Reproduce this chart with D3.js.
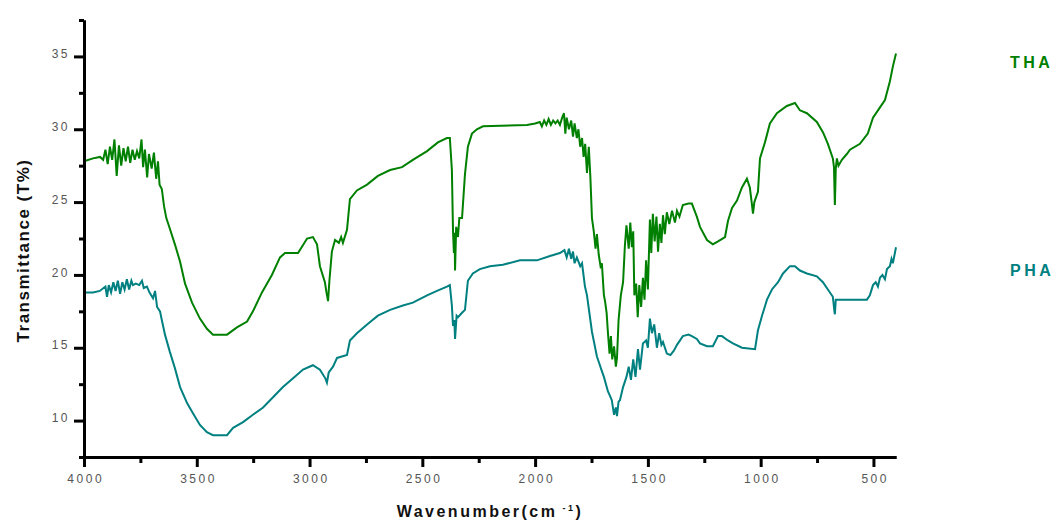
<!DOCTYPE html>
<html>
<head>
<meta charset="utf-8">
<script src="https://cdn.jsdelivr.net/npm/d3@7"></script>
<style>
    body { margin: 0; background: #fff; }
    svg { display: block; font-family: Arial, "Liberation Sans", sans-serif; }
    .axis path.domain { stroke: #000; stroke-width: 3; }
    .axis .tick line { stroke: #000; stroke-width: 3; }
    .axis .tick text { fill: #555; font-size: 12px; letter-spacing: 2.5px; }
    .minor .tick text { display: none; }
</style>
</head>
<body>
<script>
/*
** Data - FTIR spectra (wavenumber cm-1, transmittance %)
*/
var seriesNames = ["THA", "PHA"];
var seriesColors = ["#008000", "#008080"];

var thaWave = [4000,3960,3929,3915,3905,3895,3885,3875,3865,3855,3845,3835,3825,3815,3805,3795,3785,3775,3765,3755,3745,3738,3730,3720,3712,3700,3690,3680,3672,3665,3655,3645,3635,3620,3597,3574,3552,3521,3486,3455,3428,3366,3322,3277,3251,3211,3167,3131,3109,3051,3011,2985,2967,2954,2932,2925,2918,2912,2901,2887,2870,2860,2852,2834,2821,2790,2745,2697,2643,2590,2542,2479,2431,2391,2378,2369,2364,2360,2357,2355,2350,2342,2336,2324,2311,2298,2280,2258,2231,2036,2000,1979,1970,1960,1950,1940,1930,1920,1910,1900,1890,1880,1872,1866,1860,1850,1840,1832,1825,1815,1808,1800,1792,1785,1778,1770,1762,1755,1748,1740,1732,1726,1718,1710,1704,1695,1690,1683,1677,1670,1664,1658,1650,1642,1637,1630,1620,1610,1602,1595,1585,1578,1571,1565,1560,1552,1545,1538,1530,1522,1515,1508,1500,1491,1485,1478,1470,1462,1455,1447,1440,1433,1425,1416,1405,1393,1380,1371,1360,1345,1320,1305,1283,1269,1238,1212,1189,1158,1145,1127,1105,1083,1061,1048,1040,1034,1028,1012,1003,981,959,928,884,848,826,795,751,724,702,680,675,671,667,662,655,640,618,604,560,525,502,471,449,427,414,400];
var thaValue = [27.8,28.0,28.1,27.9,28.6,27.6,28.8,27.9,29.3,26.8,28.9,27.5,28.7,27.8,28.8,27.7,28.6,27.9,28.5,28.0,29.3,27.4,28.6,26.7,28.3,27.3,28.4,26.6,27.8,26.2,25.9,24.7,23.9,23.2,22.1,20.9,19.4,18.1,17.0,16.3,15.9,15.9,16.4,16.8,17.5,18.8,20.0,21.2,21.5,21.5,22.5,22.6,22.1,20.6,19.5,18.8,18.2,19.6,21.6,22.4,22.2,22.6,22.2,23.1,25.2,25.8,26.2,26.8,27.2,27.4,27.9,28.5,29.1,29.4,29.4,27.2,23.0,21.5,22.9,20.3,23.3,22.6,23.9,23.9,26.9,28.8,29.7,30.0,30.2,30.3,30.4,30.5,30.2,30.6,30.3,30.7,30.3,30.6,30.4,30.6,30.3,30.8,31.1,29.7,30.8,30.0,30.6,29.5,30.4,29.4,30.0,28.8,29.4,28.1,29.0,27.0,28.8,26.7,23.9,23.0,21.8,22.8,21.4,20.6,20.8,18.6,18.2,17.4,16.0,14.6,15.8,14.2,15.1,13.7,14.3,16.9,18.6,19.5,22.0,23.4,21.8,23.6,21.9,23.0,18.6,19.4,17.1,19.3,17.8,19.8,18.3,21.0,19.0,23.8,21.5,24.2,22.3,24.0,21.6,23.5,22.2,24.1,22.8,24.3,23.5,24.4,23.6,24.4,24.0,24.8,24.9,24.9,24.0,23.3,22.4,22.1,22.3,22.6,23.7,24.6,25.1,26.0,26.6,26.0,25.0,24.2,25.0,25.7,28.0,29.1,30.4,31.1,31.6,31.8,31.3,31.1,30.5,29.8,29.0,28.0,27.4,24.8,27.3,28.0,27.5,27.9,28.3,28.6,29.0,29.7,30.8,31.5,32.0,33.3,34.3,35.2];

var phaWave = [4000,3960,3930,3905,3898,3890,3880,3870,3860,3850,3840,3830,3820,3810,3800,3790,3783,3770,3755,3743,3735,3721,3710,3694,3685,3676,3663,3655,3641,3619,3597,3574,3543,3517,3486,3455,3428,3366,3339,3295,3251,3206,3162,3118,3073,3029,2985,2954,2930,2923,2915,2896,2878,2834,2821,2790,2745,2697,2643,2586,2542,2479,2435,2391,2378,2369,2364,2358,2355,2348,2342,2324,2311,2298,2276,2245,2200,2143,2067,1992,1934,1890,1870,1860,1850,1840,1832,1825,1815,1800,1792,1779,1770,1748,1726,1715,1704,1695,1677,1668,1660,1650,1642,1637,1630,1624,1610,1595,1585,1575,1565,1555,1544,1535,1522,1508,1500,1491,1482,1472,1460,1450,1440,1433,1416,1400,1385,1371,1345,1320,1305,1283,1269,1238,1212,1189,1172,1145,1123,1083,1025,1012,994,972,950,923,901,870,848,826,795,751,724,702,680,673,671,667,662,618,529,516,502,490,480,471,460,449,440,427,420,414,405,400];
var phaValue = [18.8,18.8,18.9,19.2,18.5,19.3,18.8,19.5,18.9,19.6,18.7,19.5,19.0,19.7,19.0,19.6,19.3,19.4,19.3,19.6,19.1,19.2,18.8,18.4,18.9,17.8,17.5,16.9,15.9,14.7,13.6,12.3,11.2,10.5,9.7,9.2,9.0,9.0,9.5,9.9,10.4,10.9,11.6,12.3,12.9,13.5,13.8,13.5,12.9,12.6,13.3,13.7,14.3,14.5,15.5,16.0,16.6,17.2,17.6,17.9,18.1,18.6,18.9,19.2,19.3,17.9,16.5,16.9,15.6,17.2,17.1,17.4,17.6,19.6,20.1,20.4,20.6,20.7,21.0,21.0,21.3,21.5,21.7,21.2,21.8,21.1,21.6,20.8,21.2,20.6,20.8,19.2,18.6,16.1,14.4,13.9,13.4,13.0,12.0,11.7,11.4,10.4,10.9,10.3,11.3,11.4,12.3,13.0,13.7,12.8,14.2,13.0,14.9,13.5,15.3,15.5,15.0,17.0,16.0,16.6,15.0,16.0,15.2,15.4,14.6,14.5,14.8,15.2,15.8,15.9,15.8,15.6,15.3,15.1,15.1,15.8,15.8,15.5,15.3,15.0,14.9,16.2,17.2,18.3,19.0,19.5,20.1,20.6,20.6,20.3,20.1,19.9,19.5,19.0,18.5,17.5,17.3,18.3,18.3,18.3,18.3,18.6,19.3,19.5,19.2,19.8,20.0,19.7,20.4,20.6,21.1,20.8,21.5,21.9];

var xMajorTicks = [4000, 3500, 3000, 2500, 2000, 1500, 1000, 500];
var xMinorTicks = [3750, 3250, 2750, 2250, 1750, 1250, 750];
var yMajorTicks = [10, 15, 20, 25, 30, 35];
var yMinorTicks = [7.5, 12.5, 17.5, 22.5, 27.5, 32.5, 37.5];

/*
** Chart
*/
var width = 1061
  , height = 521
  , margin = { top: 20, right: 165, bottom: 64, left: 84 }
  , innerW = width - margin.left - margin.right
  , innerH = height - margin.top - margin.bottom
;

var svg = d3.select("body").append("svg")
    .attr("width", width)
    .attr("height", height)
;
var g = svg.append("g")
    .attr("transform", "translate(" + margin.left + "," + margin.top + ")")
;

var x = d3.scaleLinear().domain([4000, 400]).range([0, innerW]);
var y = d3.scaleLinear().domain([7.5, 37.5]).range([innerH, 0]);

var series = [
      { name: seriesNames[0], color: seriesColors[0], wave: thaWave, value: thaValue }
    , { name: seriesNames[1], color: seriesColors[1], wave: phaWave, value: phaValue }
];

var line = d3.line()
    .x(function(d) { return x(d[0]); })
    .y(function(d) { return y(d[1]); })
;

series.forEach(function(s) {
    var pts = d3.zip(s.wave, s.value);
    g.append("path")
        .datum(pts)
        .attr("fill", "none")
        .attr("stroke", s.color)
        .attr("stroke-width", 2)
        .attr("stroke-linejoin", "miter")
        .attr("d", line)
    ;
});

// minor ticks first, then major axes on top
g.append("g")
    .attr("class", "axis minor")
    .attr("transform", "translate(0," + innerH + ")")
    .call(d3.axisBottom(x).tickValues(xMinorTicks).tickSize(6).tickSizeOuter(0))
;
g.append("g")
    .attr("class", "axis")
    .attr("transform", "translate(0," + innerH + ")")
    .call(d3.axisBottom(x).tickValues(xMajorTicks).tickSize(10).tickSizeOuter(0)
        .tickPadding(7).tickFormat(d3.format("d")))
  .selectAll(".tick text")
    .attr("dx", "0.1em")
;
g.append("g")
    .attr("class", "axis minor")
    .call(d3.axisLeft(y).tickValues(yMinorTicks).tickSize(5).tickSizeOuter(0))
;
g.append("g")
    .attr("class", "axis")
    .call(d3.axisLeft(y).tickValues(yMajorTicks).tickSize(10).tickSizeOuter(0)
        .tickPadding(4).tickFormat(d3.format("d")))
  .selectAll(".tick text")
    .attr("dy", "0.1em")
;

// axis titles
svg.append("text")
    .attr("transform", "translate(29," + (margin.top + innerH / 2 + 12) + ") rotate(-90)")
    .attr("text-anchor", "middle")
    .style("font-size", "17px")
    .style("font-weight", "bold")
    .style("letter-spacing", "1.5px")
    .attr("fill", "#111")
    .text("Transmittance (T%)")
;
var xt = svg.append("text")
    .attr("x", 490)
    .attr("y", 517)
    .attr("text-anchor", "middle")
    .style("font-size", "16px")
    .style("font-weight", "bold")
    .style("letter-spacing", "2.5px")
    .attr("fill", "#111")
;
xt.append("tspan").text("Wavenumber(cm");
xt.append("tspan").attr("dy", "-6").style("font-size", "9px").text(" -1");
xt.append("tspan").attr("dy", "6").text(")");

// series labels
var labelY = [62, 270];
series.forEach(function(s, i) {
    svg.append("text")
        .attr("x", 1010)
        .attr("y", labelY[i])
        .attr("dy", "0.35em")
        .style("font-size", "16px")
        .style("font-weight", "bold")
        .style("letter-spacing", "3.5px")
        .attr("fill", s.color)
        .text(s.name)
    ;
});
</script>
</body>
</html>
